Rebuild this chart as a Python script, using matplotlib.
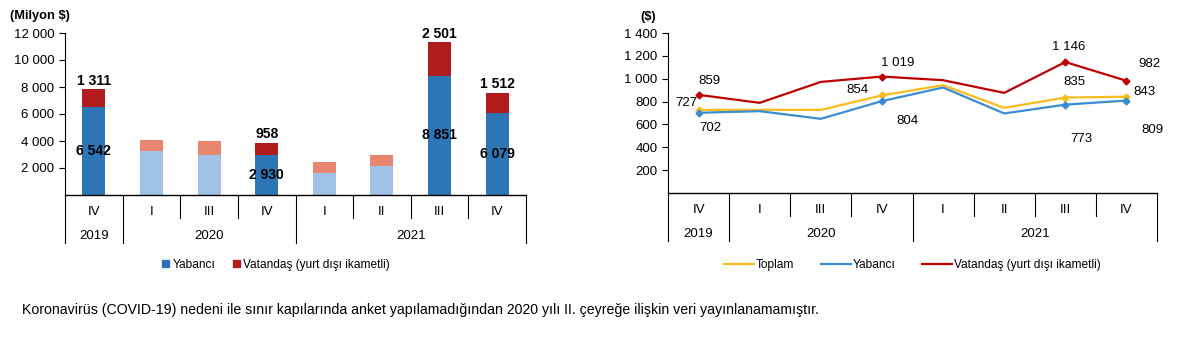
import numpy as np
import matplotlib.pyplot as plt
import matplotlib.transforms as mtransforms
from matplotlib.patches import Patch
from matplotlib.lines import Line2D

plt.rcParams['font.family'] = ['Liberation Sans', 'DejaVu Sans']

# data
quarters = ['IV', 'I', 'III', 'IV', 'I', 'II', 'III', 'IV']
years = ['2019', '2020', '2021']
year_spans = [(0, 0), (1, 3), (4, 7)]

yabanci_gelir = [6542, 3280, 2960, 2930, 1650, 2170, 8851, 6079]
vatandas_gelir = [1311, 790, 1040, 958, 795, 790, 2501, 1512]
faded = [False, True, True, False, True, True, False, False]

toplam_harcama = [727, 728, 727, 854, 943, 745, 835, 843]
yabanci_harcama = [702, 716, 649, 804, 923, 696, 773, 809]
vatandas_harcama = [859, 789, 972, 1019, 987, 876, 1146, 982]
marked = [0, 3, 6, 7]

c_blue = '#2E75B6'
c_red = '#B01C1C'
c_lblue = '#A0C2E7'
c_lred = '#E8866F'
c_orange = '#FBBD1E'
c_lineblue = '#3A8DD0'
c_linered = '#C00000'

fig = plt.figure(figsize=(11.89, 3.38), dpi=100)


def fmt(v):
    return f'{v:,}'.replace(',', ' ')


def cat_axis(ax, n, hpx):
    # hpx: axes height in pixels
    tr = mtransforms.blended_transform_factory(ax.transData, ax.transAxes)
    h_short = 23 / hpx
    h_long = 48 / hpx
    ax.set_xticks([])
    ax.spines['bottom'].set_visible(False)
    ax.plot([-0.5, n - 0.5], [0, 0], color='black', lw=1, transform=tr, clip_on=False)
    long_pos = [s[0] - 0.5 for s in year_spans] + [n - 0.5]
    for i in range(n + 1):
        xb = i - 0.5
        h = h_long if xb in long_pos else h_short
        ax.plot([xb, xb], [0, -h], color='black', lw=0.8, transform=tr, clip_on=False)
    for i, q in enumerate(quarters):
        ax.text(i, -17 / hpx, q, transform=tr, ha='center', va='center', fontsize=9.5)
    for yr, (a, b) in zip(years, year_spans):
        ax.text((a + b) / 2, -41 / hpx, yr, transform=tr,
                ha='center', va='center', fontsize=9.5)


# left chart
ax1 = fig.add_axes([65 / 1189, 1 - 195 / 338, 461 / 1189, 162 / 338])
x = np.arange(len(quarters))
for i in x:
    cb = c_lblue if faded[i] else c_blue
    cr = c_lred if faded[i] else c_red
    ax1.bar(i, yabanci_gelir[i], width=0.4, color=cb)
    ax1.bar(i, vatandas_gelir[i], width=0.4, bottom=yabanci_gelir[i], color=cr)
    if not faded[i]:
        ax1.text(i, yabanci_gelir[i] / 2, fmt(yabanci_gelir[i]),
                 ha='center', va='center', fontsize=10, fontweight='bold')
        ax1.text(i, yabanci_gelir[i] + vatandas_gelir[i] + 600, fmt(vatandas_gelir[i]),
                 ha='center', va='center', fontsize=10, fontweight='bold')
ax1.set_xlim(-0.5, 7.5)
ax1.set_ylim(0, 12000)
ax1.set_yticks(range(2000, 12001, 2000))
ax1.set_yticklabels([fmt(v) for v in range(2000, 12001, 2000)], fontsize=9.5)
ax1.tick_params(axis='y', length=4, width=0.8)
for s in ['top', 'right']:
    ax1.spines[s].set_visible(False)
ax1.spines['left'].set_linewidth(0.8)
cat_axis(ax1, 8, 162)
fig.text(10 / 1189, 1 - 16 / 338, '(Milyon $)', fontsize=9.3, fontweight='bold', va='center')
ax1.legend(handles=[Patch(color=c_blue, label='Yabancı'),
                    Patch(color=c_red, label='Vatandaş (yurt dışı ikametli)')],
           loc='center', bbox_to_anchor=(0.458, -0.43), ncol=2, frameon=False, fontsize=8.6,
           handlelength=0.6, handleheight=0.6, handletextpad=0.3, columnspacing=1.4)

# right chart
ax2 = fig.add_axes([668 / 1189, 1 - 193 / 338, 489 / 1189, 160 / 338])
ax2.plot(x, toplam_harcama, color=c_orange, lw=1.6)
ax2.plot(x, yabanci_harcama, color=c_lineblue, lw=1.6)
ax2.plot(x, vatandas_harcama, color=c_linered, lw=1.6)
ax2.plot(x[marked], np.array(toplam_harcama)[marked], 'D', color=c_orange, ms=3.5, lw=0)
ax2.plot(x[marked], np.array(yabanci_harcama)[marked], 'D', color=c_lineblue, ms=3.5, lw=0)
ax2.plot(x[marked], np.array(vatandas_harcama)[marked], 'D', color=c_linered, ms=3.5, lw=0)

# label offsets (x in categories, y in $)
lab = [
    (0, vatandas_harcama[0], 0.18, 120),
    (0, toplam_harcama[0], -0.2, 60),
    (0, yabanci_harcama[0], 0.2, -130),
    (3, toplam_harcama[3], -0.4, 45),
    (3, vatandas_harcama[3], 0.25, 120),
    (3, yabanci_harcama[3], 0.42, -170),
    (6, vatandas_harcama[6], 0.05, 130),
    (6, toplam_harcama[6], 0.15, 135),
    (6, yabanci_harcama[6], 0.27, -300),
    (7, vatandas_harcama[7], 0.38, 150),
    (7, toplam_harcama[7], 0.3, 40),
    (7, yabanci_harcama[7], 0.43, -260),
]
for xi, v, dx, dy in lab:
    ax2.text(xi + dx, v + dy, fmt(v), ha='center', va='center', fontsize=9.5)

ax2.set_xlim(-0.5, 7.5)
ax2.set_ylim(0, 1400)
ax2.set_yticks(range(200, 1401, 200))
ax2.set_yticklabels([fmt(v) for v in range(200, 1401, 200)], fontsize=9.5)
ax2.tick_params(axis='y', length=4, width=0.8)
for s in ['top', 'right']:
    ax2.spines[s].set_visible(False)
ax2.spines['left'].set_linewidth(0.8)
cat_axis(ax2, 8, 160)
fig.text(640 / 1189, 1 - 17 / 338, '($)', fontsize=9.3, fontweight='bold', va='center')
ax2.legend(handles=[Line2D([], [], color=c_orange, lw=1.6, label='Toplam'),
                    Line2D([], [], color=c_lineblue, lw=1.6, label='Yabancı'),
                    Line2D([], [], color=c_linered, lw=1.6, label='Vatandaş (yurt dışı ikametli)')],
           loc='center', bbox_to_anchor=(0.5, -0.45), ncol=3, frameon=False, fontsize=8.6,
           handlelength=2.5, handletextpad=0.2, columnspacing=2.2)

fig.text(22 / 1189, 1 - 310 / 338,
         'Koronavirüs (COVID-19) nedeni ile sınır kapılarında anket yapılamadığından '
         '2020 yılı II. çeyreğe ilişkin veri yayınlanamamıştır.',
         fontsize=10.2, va='center')

fig.savefig('out.png', dpi=100)
